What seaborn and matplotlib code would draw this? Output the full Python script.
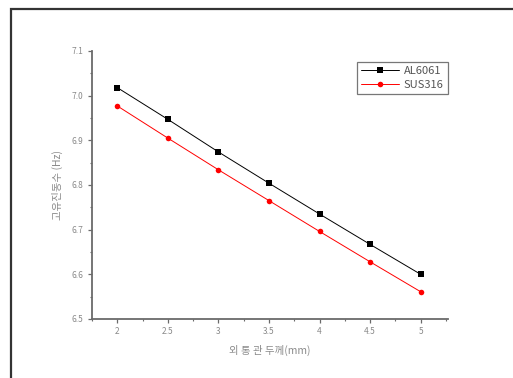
import matplotlib
matplotlib.use("Agg")
import matplotlib.pyplot as plt
from matplotlib.lines import Line2D
from matplotlib.ticker import MultipleLocator, FixedLocator
import numpy as np
import pandas as pd
import seaborn as sns

# Pipe wall thickness (mm) and natural frequency (Hz) for two materials
thickness = [2, 2.5, 3, 3.5, 4, 4.5, 5]
al6061 = [7.018, 6.947, 6.874, 6.804, 6.735, 6.667, 6.600]
sus316 = [6.977, 6.905, 6.834, 6.765, 6.696, 6.628, 6.561]
series_names = ["AL6061", "SUS316"]

x_ticks = [2, 2.5, 3, 3.5, 4, 4.5, 5]
x_tick_labels = ["2", "2.5", "3", "3.5", "4", "4.5", "5"]
y_ticks = [6.5, 6.6, 6.7, 6.8, 6.9, 7.0, 7.1]
y_tick_labels = ["6.5", "6.6", "6.7", "6.8", "6.9", "7.0", "7.1"]

df = pd.DataFrame({
    "thickness": thickness * 2,
    "freq": al6061 + sus316,
    "material": [series_names[0]] * len(thickness) + [series_names[1]] * len(thickness),
})

sns.set_theme(style="ticks")
plt.rcParams["font.family"] = ["Noto Sans CJK KR", "DejaVu Sans"]

fig = plt.figure(figsize=(5.13, 3.78), dpi=100)
ax = fig.add_axes([92 / 513, 1 - 319 / 378, (448 - 92) / 513, (319 - 51) / 378])

# outer frame: top and left edges only (it runs off the right and bottom)
fx, fy = 10.5 / 513, 1 - 8.5 / 378
fig.add_artist(Line2D([fx, fx, 1.0], [0.0, fy, fy], transform=fig.transFigure,
                      color="#333333", linewidth=1.6, solid_joinstyle="miter"))

sns.lineplot(data=df, x="thickness", y="freq", hue="material", style="material",
             palette={"AL6061": "black", "SUS316": "red"},
             markers={"AL6061": "s", "SUS316": "o"}, dashes=False,
             markersize=4, linewidth=0.7, markeredgewidth=0, ax=ax)

ax.set_xlim(1.75, 5.27)
ax.set_ylim(6.5, 7.1)
ax.xaxis.set_major_locator(FixedLocator(x_ticks))
ax.set_xticklabels(x_tick_labels)
ax.xaxis.set_minor_locator(MultipleLocator(0.25))
ax.yaxis.set_major_locator(FixedLocator(y_ticks))
ax.set_yticklabels(y_tick_labels)
ax.yaxis.set_minor_locator(MultipleLocator(0.05))

gray = "#8a8a8a"
for side in ("top", "right"):
    ax.spines[side].set_visible(False)
for side in ("left", "bottom"):
    ax.spines[side].set_color("#6a6a6a")
    ax.spines[side].set_linewidth(1.3)

ax.tick_params(axis="both", which="major", direction="out", length=3, width=0.9,
               colors="#6a6a6a", labelcolor=gray, labelsize=6, pad=3)
ax.tick_params(axis="both", which="minor", direction="out", length=1.5, width=0.8,
               colors="#6a6a6a")

ax.set_xlabel("외 통 관 두께(mm)", fontsize=7.5, color=gray, labelpad=6)
ax.set_ylabel("고유진동수 (Hz)", fontsize=7.5, color=gray, labelpad=6)

leg = ax.legend(loc="upper right", bbox_to_anchor=(1.0, 0.96), borderaxespad=0,
                fontsize=8, frameon=True, fancybox=False, handlelength=3.4,
                borderpad=0.4, labelspacing=0.35, handletextpad=0.4)
leg.get_frame().set_edgecolor("#555555")
leg.get_frame().set_linewidth(0.9)
for t in leg.get_texts():
    t.set_color("#555555")

fig.savefig("out.png", dpi=100)
